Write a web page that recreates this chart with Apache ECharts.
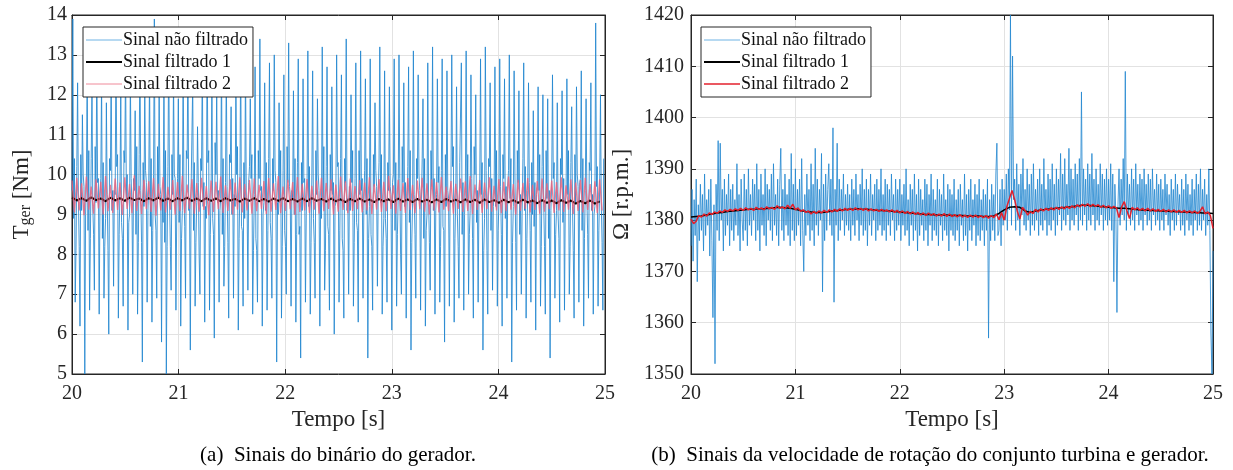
<!DOCTYPE html>
<html>
<head>
<meta charset="utf-8">
<script src="https://cdn.jsdelivr.net/npm/echarts@6/dist/echarts.min.js"></script>
<style>
  html, body { margin: 0; padding: 0; background: #fff; }
  #chart { width: 1233px; height: 470px; }
</style>
</head>
<body>
<div id="chart"></div>
<script>
// ---------- (a) generator torque [Nm] ----------
// One oscillation cycle of the raw torque every 0.045 s, six samples per cycle:
// midA, upper spike, midB, midC, lower spike, midD.
const torqueCycle = 0.045;
const torqueMidA = [
  9.6, 10.2, 9.1, 9.8, 10.4, 9.3, 9.9, 8.9, 10.1, 9.5,
  9.7, 10.3, 9.0, 9.6, 10.5, 9.2, 9.8, 10.0, 9.4, 8.8,
  10.2, 9.5, 9.9, 9.1, 10.4, 9.7, 9.3, 10.1, 8.9, 9.6,
  10.0, 9.4, 9.8, 10.3, 9.2, 9.7, 8.9, 10.2, 9.5, 9.9,
  9.3, 10.4, 9.6, 9.0, 10.1, 9.8, 9.4, 10.3, 9.1, 9.7,
  10.0, 9.5, 8.9, 10.2, 9.6, 9.3, 10.4, 9.8, 9.1, 9.9,
  9.5, 10.1, 9.2, 9.7, 10.3, 8.9, 9.6, 10.0, 9.4, 9.8,
  10.2, 9.3, 9.9, 10.4, 9.0, 9.7, 9.5, 10.1, 9.2, 9.8,
  9.4, 10.3, 9.6, 9.1, 10.0, 9.7, 8.9, 10.2, 9.5, 9.3,
  9.9, 10.1, 9.2, 9.8, 10.4, 9.6, 9.0, 9.7, 10.2, 9.4,
  9.8, 9.1, 10.0, 9.5, 10.3, 9.3, 9.9, 9.6, 10.1, 9.2, 9.7
];
const torquePeak = [
  13.9, 12.3, 11.5, 12.8, 12.2, 13.0, 12.4, 11.8, 12.6, 13.2,
  12.0, 12.9, 12.5, 11.6, 13.1, 12.2, 12.7, 13.9, 12.1, 12.6,
  13.3, 12.4, 11.9, 12.8, 13.0, 12.3, 11.2, 12.9, 13.3, 12.5,
  12.0, 13.1, 12.6, 11.7, 12.4, 13.2, 12.9, 11.9, 12.7, 13.4,
  12.3, 12.8, 13.0, 11.8, 12.5, 13.3, 12.1, 12.9, 12.4, 13.1,
  12.6, 11.9, 13.2, 12.7, 12.2, 13.0, 12.5, 13.4, 12.0, 12.8,
  13.1, 12.4, 12.9, 11.8, 13.2, 12.6, 12.2, 12.9, 13.0, 12.3,
  12.7, 13.1, 12.5, 11.9, 12.8, 13.2, 12.4, 12.9, 12.6, 13.0,
  12.2, 12.8, 13.1, 12.5, 12.0, 12.9, 13.2, 12.3, 12.7, 12.9,
  12.4, 13.0, 12.6, 12.1, 12.8, 12.3, 11.6, 12.2, 12.0, 11.9,
  12.5, 11.8, 12.1, 12.4, 11.7, 12.2, 12.6, 11.9, 12.3, 13.8, 12.0
];
const torqueMidB = [
  8.9, 9.4, 10.0, 8.6, 9.2, 9.8, 8.4, 9.5, 9.1, 10.2,
  8.8, 9.3, 9.9, 8.5, 9.6, 10.1, 8.7, 9.0, 9.7, 8.3,
  9.4, 10.0, 8.8, 9.5, 9.1, 8.6, 9.8, 9.2, 10.3, 8.9,
  9.3, 8.5, 9.7, 9.0, 10.0, 8.7, 9.4, 9.9, 8.4, 9.6,
  9.1, 8.8, 10.1, 9.3, 8.6, 9.7, 9.0, 8.5, 9.8, 9.2,
  8.9, 10.0, 9.4, 8.7, 9.5, 10.2, 8.4, 9.1, 9.8, 8.8,
  9.6, 9.0, 8.5, 10.1, 9.3, 8.9, 9.7, 8.6, 9.9, 9.2,
  8.8, 9.5, 10.0, 8.4, 9.4, 9.1, 9.8, 8.7, 9.6, 10.2,
  9.0, 8.5, 9.3, 9.9, 8.8, 9.5, 10.1, 8.6, 9.2, 9.7,
  8.9, 9.4, 10.0, 8.5, 9.1, 9.8, 8.7, 9.6, 9.3, 8.4,
  9.9, 9.0, 8.8, 9.5, 9.2, 10.0, 8.6, 9.4, 9.1, 9.7, 9.3
];
const torqueMidC = [
  10.4, 8.2, 9.7, 10.6, 8.5, 9.9, 10.3, 8.1, 9.6, 10.5,
  8.4, 10.0, 9.2, 10.7, 8.3, 9.8, 10.4, 8.6, 9.5, 10.6,
  8.2, 9.9, 10.5, 8.7, 9.4, 10.3, 8.0, 9.8, 10.6, 8.5,
  9.6, 10.4, 8.3, 9.9, 10.7, 8.6, 9.3, 10.5, 8.1, 9.7,
  10.3, 8.4, 9.8, 10.6, 8.2, 9.5, 10.4, 8.7, 9.9, 10.2,
  8.3, 9.6, 10.7, 8.5, 9.8, 10.3, 8.1, 9.4, 10.6, 8.6,
  9.9, 10.4, 8.2, 9.7, 10.5, 8.4, 9.5, 10.3, 8.0, 9.8,
  10.6, 8.5, 9.6, 10.4, 8.3, 9.9, 10.2, 8.6, 9.4, 10.7,
  8.2, 9.8, 10.5, 8.4, 9.6, 10.3, 8.1, 9.9, 10.6, 8.5,
  9.7, 10.4, 8.3, 9.5, 10.2, 8.6, 9.8, 10.5, 8.2, 9.6,
  10.3, 8.4, 9.9, 10.6, 8.1, 9.7, 10.4, 8.5, 9.5, 10.2, 8.3
];
const torqueTrough = [
  6.8, 6.2, 5.0, 6.6, 7.1, 6.5, 6.9, 6.0, 7.2, 6.4,
  6.7, 6.1, 7.0, 6.5, 5.3, 6.8, 6.3, 6.9, 5.8, 5.0,
  7.1, 6.6, 6.2, 6.9, 5.6, 6.7, 7.0, 6.3, 6.6, 5.9,
  6.8, 7.2, 6.4, 6.9, 6.1, 6.7, 7.1, 6.5, 6.8, 6.2,
  6.6, 6.9, 5.3, 6.4, 7.0, 6.7, 6.3, 5.4, 6.8, 6.5,
  6.9, 6.2, 7.1, 6.6, 6.0, 6.8, 6.4, 7.0, 6.7, 6.3,
  6.9, 5.4, 6.6, 7.2, 6.5, 6.8, 6.1, 6.7, 7.0, 6.4,
  5.6, 6.9, 6.6, 6.2, 7.1, 6.5, 6.8, 5.8, 6.7, 6.3,
  6.9, 6.6, 7.0, 6.4, 6.8, 5.6, 6.5, 7.1, 6.7, 6.2,
  6.9, 5.3, 6.6, 7.0, 6.4, 6.8, 6.1, 6.7, 6.5, 5.4,
  6.9, 6.3, 6.6, 7.0, 6.4, 6.8, 6.2, 6.9, 6.5, 6.7, 6.6
];
const torqueMidD = [
  8.1, 10.5, 9.0, 8.4, 10.7, 9.3, 8.2, 10.4, 9.6, 8.5,
  10.6, 8.8, 9.9, 8.3, 10.3, 9.1, 8.6, 10.7, 9.4, 8.2,
  10.5, 9.0, 8.4, 10.6, 9.7, 8.3, 10.4, 9.2, 8.5, 10.8,
  9.1, 8.2, 10.5, 9.5, 8.4, 10.3, 9.8, 8.1, 10.6, 9.0,
  8.6, 10.4, 9.3, 8.2, 10.7, 9.6, 8.5, 10.3, 9.0, 8.3,
  10.6, 9.4, 8.1, 10.5, 9.2, 8.6, 10.4, 9.7, 8.3, 10.6,
  9.1, 8.4, 10.5, 9.5, 8.2, 10.3, 9.8, 8.5, 10.7, 9.0,
  8.3, 10.4, 9.3, 8.6, 10.6, 9.1, 8.2, 10.5, 9.6, 8.4,
  10.3, 9.0, 8.5, 10.7, 9.4, 8.1, 10.4, 9.2, 8.6, 10.5,
  9.7, 8.3, 10.6, 9.0, 8.4, 10.3, 9.5, 8.2, 10.6, 9.1,
  8.5, 10.4, 9.3, 8.2, 10.5, 9.8, 8.4, 10.3, 9.0, 8.6, 10.4
];
// Filter 1 output, one sample per cycle
const torqueFilt1 = [
  9.42, 9.35, 9.41, 9.34, 9.43, 9.36, 9.40, 9.33, 9.42, 9.35,
  9.41, 9.34, 9.42, 9.36, 9.40, 9.33, 9.41, 9.35, 9.42, 9.34,
  9.40, 9.33, 9.41, 9.35, 9.42, 9.34, 9.40, 9.33, 9.41, 9.34,
  9.40, 9.33, 9.41, 9.35, 9.39, 9.32, 9.40, 9.34, 9.41, 9.33,
  9.39, 9.32, 9.40, 9.34, 9.41, 9.33, 9.39, 9.32, 9.40, 9.33,
  9.41, 9.34, 9.39, 9.32, 9.40, 9.33, 9.38, 9.31, 9.39, 9.33,
  9.40, 9.32, 9.38, 9.31, 9.39, 9.33, 9.38, 9.31, 9.40, 9.32,
  9.38, 9.31, 9.39, 9.32, 9.37, 9.30, 9.38, 9.31, 9.39, 9.32,
  9.37, 9.30, 9.38, 9.31, 9.37, 9.29, 9.38, 9.31, 9.36, 9.29,
  9.37, 9.30, 9.36, 9.29, 9.37, 9.30, 9.35, 9.28, 9.36, 9.29,
  9.35, 9.28, 9.36, 9.29, 9.35, 9.27, 9.34, 9.28, 9.35, 9.27, 9.33
];
// Filter 2 output, two samples per cycle
const torqueFilt2 = [
  9.85, 9.05, 9.92, 9.10, 9.78, 8.98, 9.95, 9.12, 9.70, 9.02, 9.88, 9.15, 9.82, 9.00, 9.96, 9.08, 9.74, 9.04, 9.90, 9.11,
  9.80, 8.99, 9.93, 9.14, 9.76, 9.03, 9.98, 9.09, 9.72, 9.01, 9.87, 9.13, 9.83, 9.06, 9.91, 8.97, 9.77, 9.10, 9.94, 9.05,
  9.69, 9.12, 9.86, 9.00, 9.81, 9.08, 9.97, 9.03, 9.75, 9.14, 9.89, 9.02, 9.79, 9.07, 9.92, 9.11, 9.71, 8.98, 9.85, 9.06,
  9.82, 9.13, 9.95, 9.04, 9.73, 9.09, 9.88, 9.00, 9.80, 9.12, 9.93, 9.05, 9.76, 9.10, 9.86, 9.02, 9.90, 9.08, 9.74, 9.14,
  9.84, 9.01, 9.91, 9.07, 9.78, 9.11, 9.96, 9.03, 9.70, 9.09, 9.87, 9.13, 9.81, 8.99, 9.94, 9.06, 9.77, 9.10, 9.89, 9.04,
  9.72, 9.12, 9.85, 9.02, 9.92, 9.08, 9.79, 9.14, 9.88, 9.00, 9.75, 9.07, 9.95, 9.11, 9.83, 9.03, 9.90, 9.09, 9.71, 9.13,
  9.86, 9.05, 9.80, 9.10, 9.93, 9.01, 9.76, 9.12, 9.89, 9.06, 9.82, 9.08, 9.97, 9.14, 9.73, 9.02, 9.87, 9.09, 9.79, 9.04,
  9.91, 9.11, 9.74, 9.03, 9.85, 9.13, 9.92, 9.07, 9.78, 9.00, 9.88, 9.10, 9.81, 9.05, 9.94, 9.12, 9.70, 9.08, 9.84, 9.02,
  9.77, 9.14, 9.90, 9.06, 9.83, 9.09, 9.96, 9.01, 9.75, 9.11, 9.86, 9.04, 9.80, 9.13, 9.93, 9.07, 9.72, 9.10, 9.89, 9.03,
  9.82, 9.08, 9.95, 9.12, 9.76, 9.00, 9.87, 9.09, 9.79, 9.14, 9.91, 9.05, 9.74, 9.11, 9.84, 9.02, 9.90, 9.07, 9.78, 9.13,
  9.85, 9.04, 9.81, 9.10, 9.93, 9.06, 9.73, 9.12, 9.88, 9.01, 9.80, 9.09, 9.86, 9.05, 9.92, 9.11, 9.76, 9.08, 9.83, 9.03,
  9.88, 9.10
];

// ---------- (b) rotational speed [r.p.m.] ----------
const speedRawStep = 0.01;   // s
const speedRaw = [
  1375, 1386, 1372, 1384, 1377, 1388, 1368, 1383, 1376, 1387,
  1378, 1385, 1374, 1389, 1377, 1384, 1379, 1386, 1373, 1388,
  1376, 1361, 1383, 1352, 1387, 1378, 1395.5, 1376, 1395, 1380,
  1386, 1374, 1388, 1377, 1385, 1379, 1389, 1375, 1386, 1378,
  1387, 1376, 1384, 1379, 1391, 1377, 1385, 1374, 1388, 1380,

  1376, 1389, 1378, 1386, 1375, 1390, 1379, 1385, 1377, 1388,
  1380, 1387, 1376, 1391, 1378, 1386, 1374, 1389, 1379, 1385,
  1377, 1390, 1375, 1387, 1380, 1386, 1378, 1389, 1376, 1391,
  1379, 1385, 1377, 1388, 1375, 1387, 1394, 1378, 1386, 1376,
  1389, 1379, 1385, 1377, 1388, 1375, 1393, 1378, 1387, 1376,

  1390, 1377, 1386, 1379, 1388, 1375, 1392, 1378, 1370, 1385,
  1377, 1389, 1379, 1386, 1376, 1391, 1378, 1387, 1375, 1394,
  1379, 1388, 1377, 1386, 1380, 1393, 1366, 1387, 1376, 1389,
  1378, 1386, 1391, 1379, 1388, 1377, 1398, 1364, 1386, 1379,
  1395, 1376, 1388, 1378, 1386, 1380, 1389, 1377, 1385, 1379,

  1387, 1378, 1385, 1376, 1388, 1379, 1386, 1377, 1389, 1380,
  1385, 1376, 1387, 1379, 1390, 1377, 1386, 1378, 1388, 1375,
  1386, 1379, 1389, 1377, 1385, 1380, 1387, 1376, 1388, 1378,
  1386, 1379, 1390, 1377, 1385, 1378, 1388, 1376, 1387, 1379,
  1386, 1377, 1389, 1380, 1385, 1376, 1388, 1378, 1386, 1379,

  1388, 1376, 1385, 1379, 1387, 1377, 1390, 1378, 1384, 1375,
  1387, 1379, 1386, 1376, 1389, 1378, 1385, 1374, 1388, 1377,
  1386, 1379, 1384, 1376, 1388, 1378, 1387, 1375, 1385, 1379,
  1389, 1376, 1386, 1378, 1384, 1377, 1388, 1375, 1386, 1379,
  1385, 1376, 1389, 1378, 1384, 1377, 1387, 1374, 1386, 1378,

  1385, 1377, 1388, 1376, 1384, 1378, 1386, 1375, 1387, 1379,
  1384, 1376, 1389, 1377, 1385, 1374, 1386, 1378, 1388, 1376,
  1384, 1379, 1387, 1375, 1385, 1377, 1388, 1376, 1384, 1378,
  1386, 1375, 1385, 1378, 1388, 1357, 1384, 1376, 1387, 1378,
  1385, 1376, 1389, 1395, 1377, 1378, 1386, 1375, 1388, 1379,

  1386, 1380, 1389, 1378, 1390, 1382, 1420, 1379, 1412, 1384,
  1388, 1378, 1391, 1380, 1387, 1377, 1389, 1381, 1392, 1379,
  1386, 1378, 1390, 1380, 1387, 1377, 1389, 1379, 1391, 1378,
  1386, 1380, 1388, 1377, 1390, 1379, 1387, 1378, 1392, 1380,
  1386, 1377, 1389, 1379, 1388, 1378, 1391, 1380, 1387, 1377,

  1390, 1379, 1388, 1381, 1393, 1378, 1389, 1380, 1392, 1379,
  1387, 1381, 1394, 1378, 1390, 1380, 1388, 1379, 1391, 1381,
  1389, 1378, 1392, 1380, 1405, 1379, 1390, 1381, 1388, 1378,
  1391, 1380, 1389, 1379, 1393, 1381, 1388, 1378, 1390, 1380,
  1387, 1379, 1391, 1381, 1389, 1378, 1388, 1380, 1390, 1379,

  1388, 1380, 1391, 1378, 1389, 1368, 1387, 1381, 1362, 1383,
  1390, 1379, 1388, 1381, 1392, 1380, 1409, 1378, 1389, 1381,
  1387, 1379, 1390, 1380, 1388, 1378, 1391, 1381, 1387, 1379,
  1389, 1380, 1388, 1378, 1390, 1381, 1387, 1379, 1389, 1380,
  1388, 1378, 1390, 1381, 1386, 1379, 1389, 1380, 1387, 1378,

  1388, 1380, 1386, 1378, 1389, 1381, 1387, 1379, 1385, 1377,
  1388, 1380, 1386, 1378, 1389, 1379, 1387, 1381, 1385, 1378,
  1388, 1379, 1386, 1377, 1389, 1380, 1387, 1378, 1385, 1379,
  1388, 1377, 1386, 1380, 1389, 1378, 1387, 1379, 1390, 1378,
  1386, 1380, 1388, 1377, 1385, 1379, 1390, 1378, 1358, 1350,
  1374
];
const speedFilt1Step = 0.05;  // s
const speedFilt1 = [
  1380.6, 1380.7, 1380.8, 1381.0, 1381.2, 1381.4, 1381.5, 1381.7, 1381.8, 1381.9,
  1382.0, 1382.1, 1382.1, 1382.2, 1382.2, 1382.3, 1382.4, 1382.5, 1382.4, 1382.3,
  1382.1, 1381.9, 1381.7, 1381.6, 1381.5, 1381.5, 1381.6, 1381.8, 1381.9, 1382.0,
  1382.1, 1382.1, 1382.2, 1382.1, 1382.1, 1382.0, 1381.9, 1381.9, 1381.8, 1381.7,
  1381.6, 1381.5, 1381.4, 1381.3, 1381.2, 1381.1, 1381.1, 1381.0, 1381.0, 1381.0,
  1380.9, 1380.9, 1380.9, 1380.8, 1380.8, 1380.8, 1380.7, 1380.7, 1380.8, 1381.3,
  1382.0, 1382.5, 1382.6, 1382.5, 1381.8, 1381.5, 1381.8, 1382.0, 1382.1, 1382.2,
  1382.3, 1382.4, 1382.5, 1382.6, 1382.8, 1382.9, 1382.9, 1382.8, 1382.7, 1382.6,
  1382.5, 1382.4, 1382.3, 1382.3, 1382.2, 1382.1, 1382.0, 1382.0, 1381.9, 1381.9,
  1381.8, 1381.8, 1381.7, 1381.7, 1381.6, 1381.6, 1381.5, 1381.5, 1381.4, 1381.4,
  1381.3
];
const speedFilt2Step = 0.025; // s
const speedFilt2 = [
  1380.2, 1379.3, 1379.8, 1380.9, 1380.6, 1381.2, 1380.8, 1381.4, 1381.1, 1381.6, 1381.3, 1381.8, 1381.5, 1382.0, 1381.7, 1382.1, 1381.8, 1382.2, 1381.9, 1382.3,
  1381.9, 1382.4, 1382.0, 1382.3, 1381.9, 1382.5, 1382.1, 1382.4, 1382.0, 1382.6, 1382.2, 1382.5, 1382.1, 1382.8, 1382.3, 1382.6, 1382.2, 1382.9, 1382.3, 1383.1,
  1382.0, 1382.4, 1381.7, 1382.0, 1381.5, 1381.8, 1381.2, 1381.7, 1381.3, 1381.8, 1381.4, 1381.9, 1381.5, 1382.0, 1381.6, 1382.1, 1381.7, 1382.2, 1381.8, 1382.3,
  1381.9, 1382.3, 1381.9, 1382.4, 1382.0, 1382.3, 1381.9, 1382.3, 1381.8, 1382.2, 1381.8, 1382.1, 1381.7, 1382.1, 1381.7, 1382.0, 1381.6, 1382.0, 1381.5, 1381.9,
  1381.4, 1381.8, 1381.3, 1381.7, 1381.2, 1381.6, 1381.1, 1381.5, 1381.0, 1381.4, 1380.9, 1381.4, 1380.9, 1381.3, 1380.8, 1381.2, 1380.8, 1381.3, 1380.7, 1381.2,
  1380.7, 1381.1, 1380.6, 1381.1, 1380.6, 1381.0, 1380.5, 1381.0, 1380.6, 1381.0, 1380.5, 1380.9, 1380.5, 1380.9, 1380.4, 1380.9, 1380.5, 1381.2, 1380.1, 1381.5,
  1380.0, 1382.6, 1384.2, 1385.8, 1384.0, 1381.8, 1380.2, 1382.5, 1381.9, 1381.0, 1381.7, 1381.3, 1382.1, 1381.6, 1382.2, 1381.8, 1382.3, 1381.9, 1382.4, 1382.0,
  1382.5, 1382.1, 1382.6, 1382.2, 1382.7, 1382.3, 1382.8, 1382.4, 1383.0, 1382.6, 1383.1, 1382.7, 1383.2, 1382.6, 1383.1, 1382.7, 1383.0, 1382.5, 1382.9, 1382.4,
  1382.8, 1382.3, 1382.7, 1382.4, 1380.5, 1382.6, 1383.6, 1381.9, 1380.3, 1382.5, 1382.0, 1382.4, 1381.9, 1382.3, 1381.8, 1382.3, 1381.8, 1382.2, 1381.7, 1382.1,
  1381.7, 1382.1, 1381.6, 1382.0, 1381.6, 1382.0, 1381.5, 1381.9, 1381.5, 1381.9, 1381.4, 1381.8, 1381.4, 1381.8, 1381.3, 1381.7, 1382.6, 1381.2, 1381.6, 1380.9,
  1378.4
];

// Axis ranges and tick spacing
const timeStart = 20, timeEnd = 25, timeStep = 1;
const torqueMin = 5, torqueMax = 14, torqueStep = 1;
const speedMin = 1350, speedMax = 1420, speedStep = 10;

const seriesNames = ['Sinal não filtrado', 'Sinal filtrado 1', 'Sinal filtrado 2'];

// ---------- build (t, value) pairs ----------
function sampled(values, step) {
  return values.map((v, i) => [+(timeStart + i * step).toFixed(4), v]);
}
const torqueRawData = [];
torquePeak.forEach((p, i) => {
  const t = timeStart + i * torqueCycle;
  const q = torqueCycle / 6;
  torqueRawData.push(
    [t, torqueMidA[i]], [t + q, p], [t + 2 * q, torqueMidB[i]],
    [t + 3 * q, torqueMidC[i]], [t + 4 * q, torqueTrough[i]], [t + 5 * q, torqueMidD[i]]
  );
});

const SERIF = '"Liberation Serif", "Times New Roman", serif';
const INK = '#262626';
const BLUE = '#2387d0';

const chart = echarts.init(document.getElementById('chart'), null, { renderer: 'canvas' });

const grids = [
  { left: 72, top: 15, width: 533, height: 359 },
  { left: 691, top: 15, width: 522, height: 359 }
];

const plainNumber = v => String(v);

function xAxes(gi) {
  const base = { gridIndex: gi, type: 'value', min: timeStart, max: timeEnd, interval: timeStep };
  return [
    Object.assign({}, base, {
      position: 'bottom',
      name: 'Tempo [s]', nameLocation: 'middle', nameGap: 24,
      nameTextStyle: { fontFamily: SERIF, fontSize: 23, color: INK },
      axisLine: { show: true, lineStyle: { color: INK, width: 1 } },
      axisTick: { show: true, inside: true, length: 5, lineStyle: { color: INK } },
      axisLabel: { fontFamily: SERIF, fontSize: 20, color: INK, margin: 10, formatter: plainNumber },
      splitLine: { show: true, lineStyle: { color: '#e2e2e2', width: 1 } }
    }),
    Object.assign({}, base, {
      position: 'top',
      axisLine: { show: true, lineStyle: { color: INK, width: 1 } },
      axisTick: { show: true, inside: true, length: 5, lineStyle: { color: INK } },
      axisLabel: { show: false }, splitLine: { show: false }
    })
  ];
}
function yAxes(gi, min, max, step, name, rich, gap, margin) {
  const base = { gridIndex: gi, type: 'value', min: min, max: max, interval: step };
  return [
    Object.assign({}, base, {
      position: 'left',
      name: name, nameLocation: 'middle', nameRotate: 90, nameGap: gap,
      nameTextStyle: { fontFamily: SERIF, fontSize: 23, color: INK, rich: rich },
      axisLine: { show: true, lineStyle: { color: INK, width: 1 } },
      axisTick: { show: true, inside: true, length: 5, lineStyle: { color: INK } },
      axisLabel: { fontFamily: SERIF, fontSize: 20, color: INK, margin: margin, formatter: plainNumber },
      splitLine: { show: true, lineStyle: { color: '#e2e2e2', width: 1 } }
    }),
    Object.assign({}, base, {
      position: 'right',
      axisLine: { show: true, lineStyle: { color: INK, width: 1 } },
      axisTick: { show: true, inside: true, length: 5, lineStyle: { color: INK } },
      axisLabel: { show: false }, splitLine: { show: false }
    })
  ];
}

const torqueRich = {
  t: { fontFamily: SERIF, fontSize: 23, color: INK, lineHeight: 25 },
  s: { fontFamily: SERIF, fontSize: 16, color: INK, lineHeight: 16, padding: [12, 0, 0, 0], verticalAlign: 'bottom' }
};

function lineSeries(name, xi, yi, data, color, width, opacity, z) {
  return {
    name: name, type: 'line', xAxisIndex: xi, yAxisIndex: yi, data: data,
    showSymbol: false, symbol: 'none', sampling: null, animation: false,
    lineStyle: { color: color, width: width, opacity: opacity },
    itemStyle: { color: color }, z: z, clip: true
  };
}

const hiddenMarker = { color: 'rgba(0,0,0,0)', opacity: 0, borderWidth: 0 };
function legendFor(gi, left, filt2Color) {
  return {
    orient: 'vertical', left: left, top: 27,
    backgroundColor: '#fff', borderColor: INK, borderWidth: 1,
    padding: [4, 5, 4, 2], itemGap: 4, itemWidth: 36, itemHeight: 18,
    selectedMode: false,
    itemStyle: hiddenMarker,
    textStyle: { fontFamily: SERIF, fontSize: 18, color: '#111', padding: [0, 0, 0, -4] },
    data: [
      { name: seriesNames[0], itemStyle: hiddenMarker, lineStyle: { color: '#6fb3e4', width: 1, opacity: 1 } },
      { name: seriesNames[1], itemStyle: hiddenMarker, lineStyle: { color: '#000', width: 2, opacity: 1 } },
      { name: seriesNames[2], itemStyle: hiddenMarker, lineStyle: { color: filt2Color, width: gi === 0 ? 1 : 1.5, opacity: 1 } }
    ]
  };
}

const option = {
  backgroundColor: '#fff',
  animation: false,
  grid: grids.map(g => Object.assign({}, g, { show: true, borderColor: INK, borderWidth: 1, backgroundColor: '#fff' })),
  xAxis: [].concat(xAxes(0), xAxes(1)),
  yAxis: [].concat(
    yAxes(0, torqueMin, torqueMax, torqueStep, '{t|T}{s|ger}{t| [Nm]}', torqueRich, 38, 5),
    yAxes(1, speedMin, speedMax, speedStep, 'Ω [r.p.m.]', null, 58, 7)
  ),
  legend: [legendFor(0, 83, '#ef8a9a'), legendFor(1, 701, '#e3202c')],
  series: [
    lineSeries(seriesNames[0], 0, 0, torqueRawData, BLUE, 1, 0.85, 2),
    lineSeries(seriesNames[1], 0, 0, sampled(torqueFilt1, torqueCycle), '#000000', 2, 1, 3),
    lineSeries(seriesNames[2], 0, 0, sampled(torqueFilt2, torqueCycle / 2), '#e9647e', 1.3, 0.85, 4),

    lineSeries(seriesNames[0], 2, 2, sampled(speedRaw, speedRawStep), BLUE, 0.9, 0.9, 2),
    lineSeries(seriesNames[1], 2, 2, sampled(speedFilt1, speedFilt1Step), '#000000', 1.5, 1, 3),
    lineSeries(seriesNames[2], 2, 2, sampled(speedFilt2, speedFilt2Step), '#e3202c', 1.5, 1, 4)
  ],
  graphic: [
    { type: 'text', x: 338, y: 455, style: { text: '(a)  Sinais do binário do gerador.', font: '21px ' + SERIF, fill: '#000', align: 'center', verticalAlign: 'middle' } },
    { type: 'text', x: 930, y: 455, style: { text: '(b)  Sinais da velocidade de rotação do conjunto turbina e gerador.', font: '21px ' + SERIF, fill: '#000', align: 'center', verticalAlign: 'middle' } }
  ]
};
chart.setOption(option);
</script>
</body>
</html>
